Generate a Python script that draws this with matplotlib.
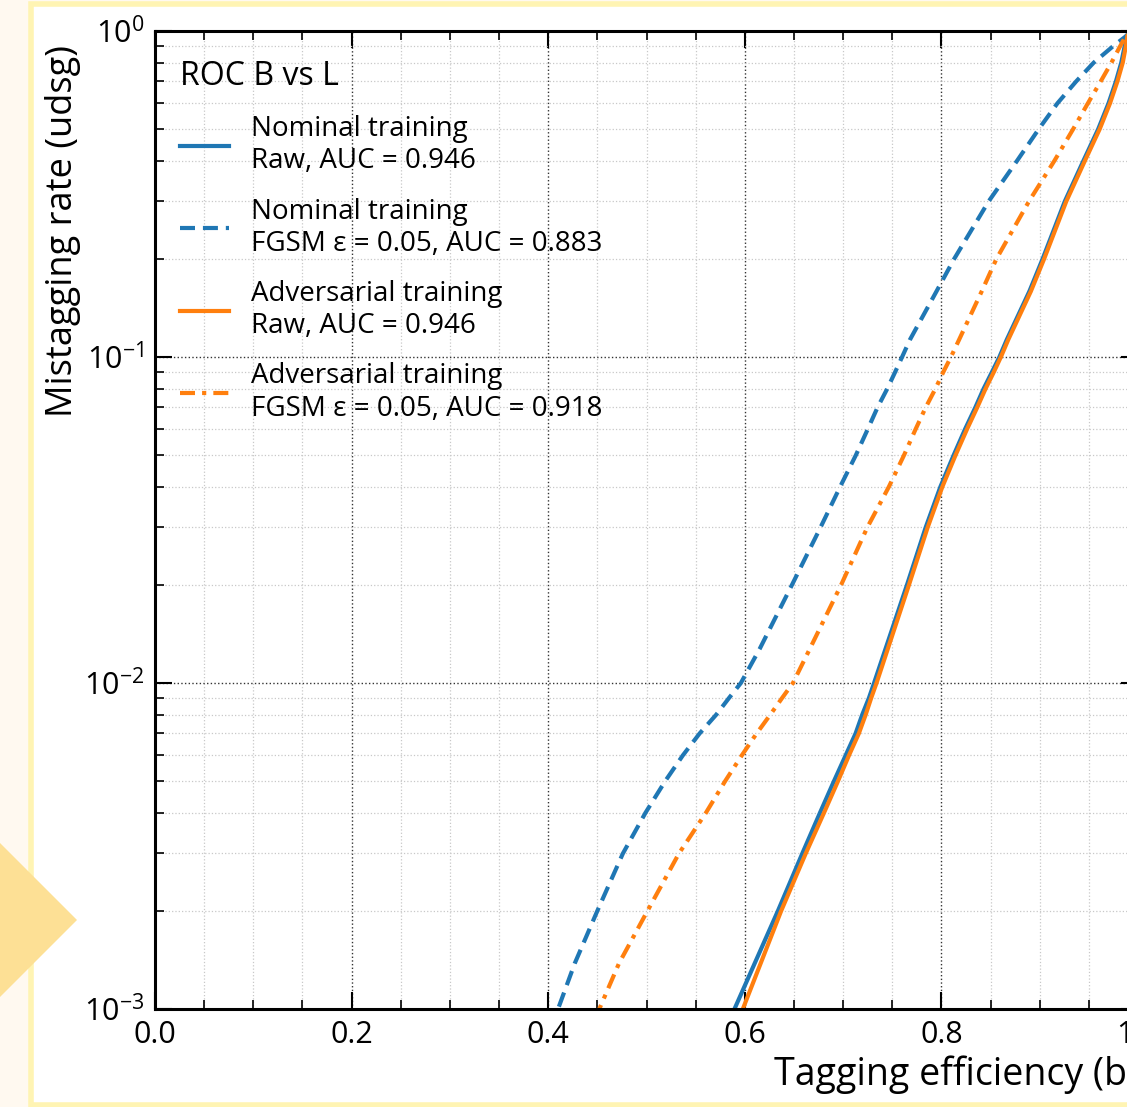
import matplotlib
matplotlib.use('Agg')
import matplotlib.pyplot as plt
from matplotlib.patches import Rectangle, Polygon
from matplotlib.ticker import MultipleLocator, LogLocator, NullFormatter
import numpy as np

# ROC curves: tagging efficiency (b) vs mistag rate (udsg)
nom_raw_eff = [0.580, 0.5895, 0.6337, 0.6585, 0.6765, 0.6907, 0.7026, 0.7127, 0.7195, 0.7263, 0.7315,
               0.765, 0.784, 0.799, 0.8125, 0.824, 0.8345, 0.843, 0.8515, 0.859, 0.8665, 0.8895, 0.903,
               0.9255, 0.9445, 0.9595, 0.970, 0.9775, 0.983, 0.9865, 0.9885, 1.0]
nom_raw_mis = [7.5e-4, 1e-3, 2e-3, 3e-3, 4e-3, 5e-3, 6e-3, 7e-3, 8e-3, 9e-3, 1e-2,
               2e-2, 3e-2, 4e-2, 5e-2, 6e-2, 7e-2, 8e-2, 9e-2, 0.1, 0.113, 0.159, 0.2,
               0.3, 0.4, 0.5, 0.6, 0.7, 0.8, 0.9, 0.97, 1.0]

nom_fgsm_eff = [0.395, 0.410, 0.427, 0.450, 0.476, 0.499, 0.519, 0.537, 0.554, 0.571, 0.584, 0.596,
                0.615, 0.648, 0.677, 0.697, 0.713, 0.725, 0.735, 0.745, 0.753, 0.760, 0.768, 0.795,
                0.813, 0.848, 0.877, 0.899, 0.918, 0.937, 0.955, 0.975, 0.989, 1.0]
nom_fgsm_mis = [7.5e-4, 1e-3, 1.38e-3, 2e-3, 3e-3, 4e-3, 5e-3, 6e-3, 7e-3, 8e-3, 9e-3, 1e-2,
                1.27e-2, 2e-2, 3e-2, 4e-2, 5e-2, 6e-2, 7e-2, 8e-2, 9e-2, 0.1, 0.113, 0.159,
                0.2, 0.3, 0.4, 0.5, 0.6, 0.7, 0.8, 0.9, 0.97, 1.0]

adv_raw_eff = [0.588, 0.598, 0.637, 0.662, 0.6806, 0.6948, 0.706, 0.716, 0.723, 0.7286, 0.734,
               0.767, 0.786, 0.801, 0.8144, 0.826, 0.8364, 0.845, 0.8534, 0.8605, 0.868, 0.891, 0.9045,
               0.927, 0.946, 0.961, 0.9715, 0.979, 0.9845, 0.9877, 0.9893, 1.0]
adv_raw_mis = nom_raw_mis

adv_fgsm_eff = [0.435, 0.452, 0.472, 0.501, 0.533, 0.5605, 0.580, 0.597, 0.612, 0.626, 0.638, 0.649,
                0.666, 0.698, 0.7246, 0.7466, 0.762, 0.7737, 0.784, 0.794, 0.802, 0.8097, 0.818, 0.841,
                0.856, 0.889, 0.915, 0.934, 0.949, 0.962, 0.973, 0.982, 0.988, 1.0]
adv_fgsm_mis = nom_fgsm_mis

labels = ['Nominal training\nRaw, AUC = 0.946',
          'Nominal training\nFGSM \u03b5 = 0.05, AUC = 0.883',
          'Adversarial training\nRaw, AUC = 0.946',
          'Adversarial training\nFGSM \u03b5 = 0.05, AUC = 0.918']

plt.rcParams['font.family'] = ['Open Sans', 'DejaVu Sans']
plt.rcParams['mathtext.fontset'] = 'custom'
plt.rcParams['mathtext.rm'] = 'Open Sans'
plt.rcParams['mathtext.it'] = 'Open Sans:italic'
plt.rcParams['mathtext.bf'] = 'Open Sans:bold'

W, H = 1127, 1107
fig = plt.figure(figsize=(W / 100, H / 100), dpi=100)
fig.patch.set_facecolor('#fff9f0')

# slide background: frame and arrow (pixel coords)
bg = fig.add_axes([0, 0, 1, 1], zorder=-5)
bg.set_xlim(0, W)
bg.set_ylim(H, 0)
bg.axis('off')
bg.add_patch(Rectangle((31, 4), 1200, 1101, facecolor='white', edgecolor='#fff4b3', lw=4))
bg.add_patch(Polygon([(-80, 920), (0, 843), (77, 920), (0, 997)], closed=True,
                     facecolor='#fde095', edgecolor='none'))

ax = fig.add_axes([155 / W, 1 - 1009 / H, 983 / W, 978 / H])
ax.set_facecolor('none')

c_blue = '#1f77b4'
c_orange = '#ff7f0e'
lw = 3.0
ax.plot(nom_raw_eff, nom_raw_mis, color=c_blue, lw=lw, label=labels[0])
ax.plot(nom_fgsm_eff, nom_fgsm_mis, color=c_blue, lw=lw, dashes=(3.6, 1.9), label=labels[1])
ax.plot(adv_raw_eff, adv_raw_mis, color=c_orange, lw=lw, label=labels[2])
ax.plot(adv_fgsm_eff, adv_fgsm_mis, color=c_orange, lw=lw, dashes=(3.6, 1.7, 1.0, 1.7), label=labels[3])

ax.set_yscale('log')
ax.set_xlim(0, 1)
ax.set_ylim(1e-3, 1)

ax.xaxis.set_major_locator(MultipleLocator(0.2))
ax.xaxis.set_minor_locator(MultipleLocator(0.05))
ax.yaxis.set_major_locator(LogLocator(base=10, numticks=10))
ax.yaxis.set_minor_locator(LogLocator(base=10, subs=np.arange(2, 10), numticks=20))
ax.yaxis.set_minor_formatter(NullFormatter())

ax.tick_params(which='both', direction='in', top=True, right=True, labelsize=22, colors='black')
ax.tick_params(which='major', length=12, width=1.5, pad=8)
ax.tick_params(which='minor', length=6.5, width=1.2)
for s in ax.spines.values():
    s.set_linewidth(2.2)

ax.grid(which='major', ls=':', color='#333333', lw=1.0)
ax.grid(which='minor', ls=':', color='#c8c8c8', lw=0.9)

ax.set_xlabel('Tagging efficiency (b)', fontsize=27, loc='right', labelpad=4)
ax.set_ylabel('Mistagging rate (udsg)', fontsize=26, loc='top', labelpad=2)
ax.yaxis.label.set_y(0.986)

leg = ax.legend(loc='upper left', bbox_to_anchor=(0.0, 0.996), frameon=False,
                title='ROC B vs L', title_fontsize=23, fontsize=20,
                handlelength=1.76, handletextpad=0.8, labelspacing=0.8,
                alignment='left')

fig.savefig('out.png', dpi=100)
